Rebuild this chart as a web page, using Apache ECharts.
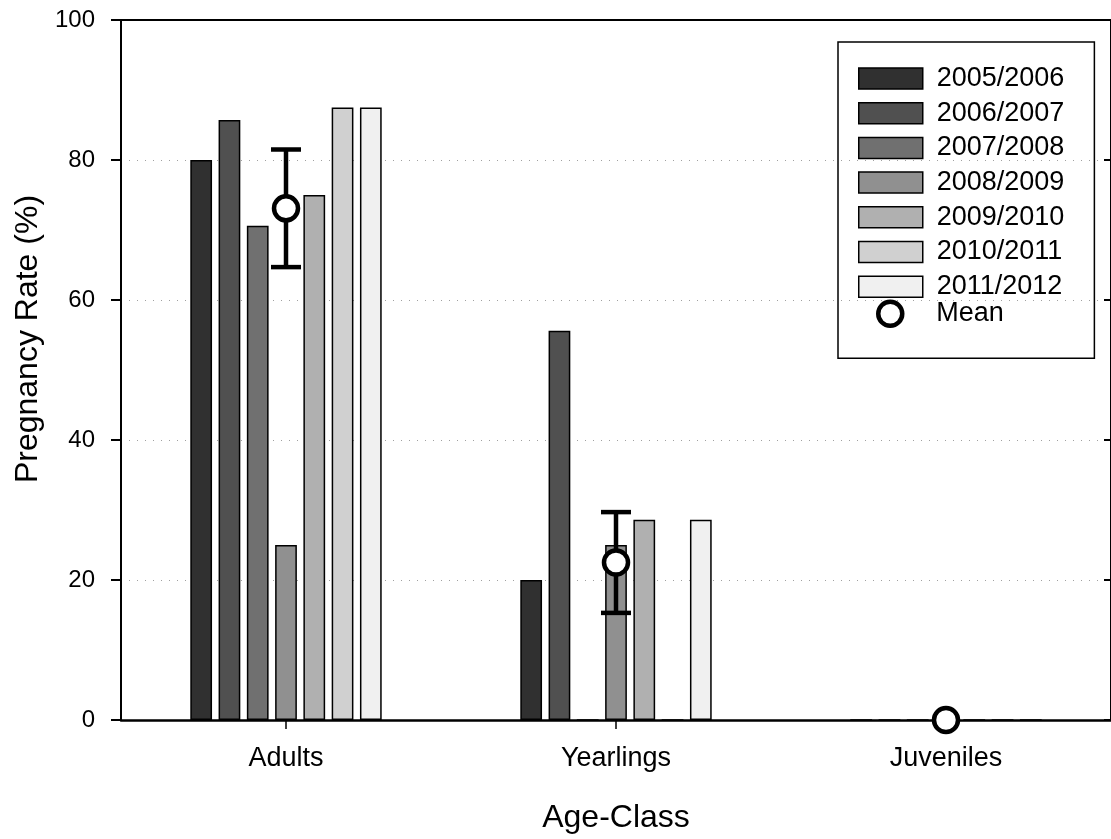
<!DOCTYPE html>
<html>
<head>
<meta charset="utf-8">
<script src="https://cdn.jsdelivr.net/npm/echarts@6/dist/echarts.min.js"></script>
<style>
  html, body { margin: 0; padding: 0; background: #fff; }
  #chart { width: 1111px; height: 839px; }
</style>
</head>
<body>
<div id="chart"></div>
<script>
// Age classes on the x axis
const categories = ['Adults', 'Yearlings', 'Juveniles'];

// Pregnancy rate (%) per season, one value per age class
const seasons = ['2005/2006', '2006/2007', '2007/2008', '2008/2009', '2009/2010', '2010/2011', '2011/2012'];
const rate2005 = [80.0, 20.0, 0];
const rate2006 = [85.7, 55.6, 0];
const rate2007 = [70.6, 0, 0];
const rate2008 = [25.0, 25.0, 0];
const rate2009 = [75.0, 28.6, 0];
const rate2010 = [87.5, 0, 0];
const rate2011 = [87.5, 28.6, 0];

// Mean across seasons and its standard error
const meanRate = [73.1, 22.5, 0];
const seRate = [8.4, 7.2, 0];

// Value axis ticks
const yMin = 0;
const yMax = 100;
const yStep = 20;

const seasonRates = [rate2005, rate2006, rate2007, rate2008, rate2009, rate2010, rate2011];
const seasonColors = ['#303030', '#505050', '#707070', '#909090', '#b0b0b0', '#d0d0d0', '#f0f0f0'];

const FONT = '"Liberation Sans", Arial, Helvetica, sans-serif';

const barSeries = seasons.map((name, k) => ({
  name: name,
  type: 'bar',
  data: seasonRates[k],
  barCategoryGap: '42%',
  barGap: '30%',
  itemStyle: { color: seasonColors[k], borderColor: '#000', borderWidth: 1.5 },
  emphasis: { disabled: true },
  z: 2
}));

const errorSeries = {
  name: 'SE',
  type: 'custom',
  data: categories.map((c, i) => [i, meanRate[i], seRate[i]]),
  encode: { x: 0, y: 1 },
  z: 5,
  silent: true,
  renderItem: function (params, api) {
    const i = api.value(0);
    const m = api.value(1);
    const s = api.value(2);
    if (!s) return null;
    const top = api.coord([i, m + s]);
    const bot = api.coord([i, m - s]);
    const hw = 15;
    const st = { stroke: '#000', lineWidth: 4.5, lineCap: 'butt' };
    return {
      type: 'group',
      children: [
        { type: 'line', shape: { x1: top[0], y1: top[1], x2: bot[0], y2: bot[1] }, style: st },
        { type: 'line', shape: { x1: top[0] - hw, y1: top[1], x2: top[0] + hw, y2: top[1] }, style: st },
        { type: 'line', shape: { x1: bot[0] - hw, y1: bot[1], x2: bot[0] + hw, y2: bot[1] }, style: st }
      ]
    };
  }
};

const meanSeries = {
  name: 'Mean',
  type: 'scatter',
  data: meanRate,
  symbol: 'circle',
  symbolSize: 24,
  itemStyle: { color: '#fff', borderColor: '#000', borderWidth: 4.5, opacity: 1 },
  emphasis: { disabled: true },
  z: 10
};

const legendText = { fontFamily: FONT, fontSize: 27, lineHeight: 27, color: '#000', padding: [0, 0, 0, 9] };

const chart = echarts.init(document.getElementById('chart'), null, { renderer: 'canvas' });

chart.setOption({
  animation: false,
  backgroundColor: '#fff',
  textStyle: { fontFamily: FONT, color: '#000' },
  grid: { left: 121, right: -6, top: 20, bottom: 118, containLabel: false },
  legend: [
    {
      data: seasons.map(s => ({ name: s, icon: 'rect' })),
      orient: 'vertical',
      left: 838,
      top: 42,
      padding: [23, 30, 58, 20],
      itemWidth: 64,
      itemHeight: 21,
      itemGap: 7.7,
      borderColor: '#000',
      borderWidth: 1.5,
      selectedMode: false,
      itemStyle: { borderColor: '#000', borderWidth: 1.5 },
      textStyle: legendText
    },
    {
      data: [{
        name: 'Mean',
        icon: 'circle',
        itemStyle: { color: '#fff', borderColor: '#000', borderWidth: 4.5 }
      }],
      orient: 'vertical',
      left: 876,
      top: 299.5,
      padding: 0,
      itemWidth: 64,
      itemHeight: 24,
      selectedMode: false,
      textStyle: legendText
    }
  ],
  xAxis: [
    {
      type: 'category',
      data: categories,
      position: 'bottom',
      boundaryGap: true,
      axisLine: { show: true, onZero: false, lineStyle: { color: '#000', width: 2.5 } },
      axisTick: { show: true, alignWithLabel: true, inside: false, length: 9, lineStyle: { color: '#000', width: 1.5 } },
      axisLabel: { fontFamily: FONT, fontSize: 27, color: '#000', margin: 25 },
      splitLine: { show: false },
      name: 'Age-Class',
      nameLocation: 'middle',
      nameGap: 82,
      nameTextStyle: { fontFamily: FONT, fontSize: 32, color: '#000' }
    },
    {
      type: 'category',
      data: categories,
      position: 'top',
      axisLine: { show: true, onZero: false, lineStyle: { color: '#000', width: 2 } },
      axisTick: { show: false },
      axisLabel: { show: false },
      splitLine: { show: false }
    }
  ],
  yAxis: [
    {
      type: 'value',
      min: yMin,
      max: yMax,
      interval: yStep,
      position: 'left',
      axisLine: { show: true, onZero: false, lineStyle: { color: '#000', width: 2 } },
      axisTick: { show: true, inside: false, length: 10, lineStyle: { color: '#000', width: 2 } },
      axisLabel: { fontFamily: FONT, fontSize: 24, color: '#000', margin: 26 },
      splitLine: { show: true, lineStyle: { color: '#a0a0a0', width: 1, type: [1, 7] } },
      name: 'Pregnancy Rate (%)',
      nameLocation: 'middle',
      nameGap: 74,
      nameRotate: 90,
      nameTextStyle: { fontFamily: FONT, fontSize: 32, color: '#000', padding: [0, 0, 0, 62] }
    },
    {
      type: 'value',
      min: yMin,
      max: yMax,
      interval: yStep,
      position: 'right',
      axisLine: { show: true, onZero: false, lineStyle: { color: '#000', width: 2 } },
      axisTick: { show: true, inside: true, length: 7, lineStyle: { color: '#000', width: 2 } },
      axisLabel: { show: false },
      splitLine: { show: false }
    }
  ],
  series: barSeries.concat([errorSeries, meanSeries])
});
</script>
</body>
</html>
